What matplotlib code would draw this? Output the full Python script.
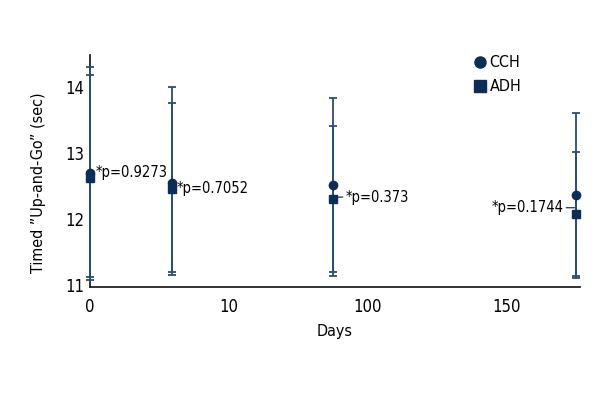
import matplotlib.pyplot as plt
import matplotlib as mplt
from matplotlib.lines import Line2D

mplt.rcParams.update({'font.size': 11})
mplt.rcParams['font.family'] = ['DejaVu Sans']
mplt.rcParams['font.stretch'] = 'condensed'

days = [0, 29.5, 87.5, 175]
tick_pos = [0, 50, 100, 150]
tick_labels = ['0', '10', '100', '150']

cch = [12.70, 12.54, 12.51, 12.36]
cch_low = [11.08, 11.15, 11.14, 11.10]
cch_high = [14.30, 14.00, 13.83, 13.61]

adh = [12.62, 12.46, 12.30, 12.07]
adh_low = [11.12, 11.19, 11.19, 11.13]
adh_high = [14.18, 13.76, 13.41, 13.02]

pvals = ['*p=0.9273', '*p=0.7052', '*p=0.373', '*p=0.1744']

bar_col = '#2a4d72'
mk_col = '#0c2d55'

fig = plt.figure(figsize=(6, 4), dpi=100)
ax = fig.add_axes([0.15, 0.2825, 0.817, 0.58])

def errs(v, lo, hi):
    return [[a - b for a, b in zip(v, lo)], [c - a for a, c in zip(v, hi)]]

ax.errorbar(days, cch, yerr=errs(cch, cch_low, cch_high), fmt='o', color=mk_col,
            ecolor=bar_col, elinewidth=1.3, capsize=3, capthick=1.3, markersize=6,
            clip_on=False, zorder=3)
ax.errorbar(days, adh, yerr=errs(adh, adh_low, adh_high), fmt='s', color=mk_col,
            ecolor=bar_col, elinewidth=1.3, capsize=3, capthick=1.3, markersize=6,
            clip_on=False, zorder=3)

# p-value labels
fs = 10.5
ax.text(days[0] + 2.2, 12.70, pvals[0], ha='left', va='center', fontsize=fs)
ax.text(days[1] + 1.8, 12.46, pvals[1], ha='left', va='center', fontsize=fs)
ax.annotate(pvals[2], xy=(days[2] + 0.5, 12.33), xytext=(days[2] + 4.5, 12.33),
            ha='left', va='center', fontsize=fs,
            arrowprops=dict(arrowstyle='-', color=bar_col, lw=1, shrinkA=0, shrinkB=0))
ax.annotate(pvals[3], xy=(days[3] - 0.5, 12.17), xytext=(days[3] - 4.5, 12.17),
            ha='right', va='center', fontsize=fs,
            arrowprops=dict(arrowstyle='-', color=bar_col, lw=1, shrinkA=0, shrinkB=0))

ax.set_xlim(0, 176.5)
ax.set_ylim(10.97, 14.48)
ax.set_xticks(tick_pos)
ax.set_xticklabels(tick_labels)
ax.set_yticks([11, 12, 13, 14])
ax.tick_params(length=0, labelsize=12, pad=8)
ax.tick_params(axis='y', pad=4)
ax.set_xlabel('Days', fontsize=11.5, labelpad=6)
ax.set_ylabel('Timed \u201dUp-and-Go\u201d (sec)', fontsize=11.5)
ax.yaxis.set_label_coords(-0.09, 0.45)
for s in ['top', 'right']:
    ax.spines[s].set_visible(False)
for s in ['left', 'bottom']:
    ax.spines[s].set_color('#222222')
    ax.spines[s].set_linewidth(1.3)

handles = [Line2D([], [], ls='none', marker='o', color=mk_col, markersize=8),
           Line2D([], [], ls='none', marker='s', color=mk_col, markersize=8)]
ax.legend(handles, ['CCH', 'ADH'], loc='upper left', bbox_to_anchor=(0.75, 1.06),
          frameon=False, handletextpad=0.1, handlelength=1.0, labelspacing=0.55,
          fontsize=11.5)

fig.savefig('out.png', dpi=100)
